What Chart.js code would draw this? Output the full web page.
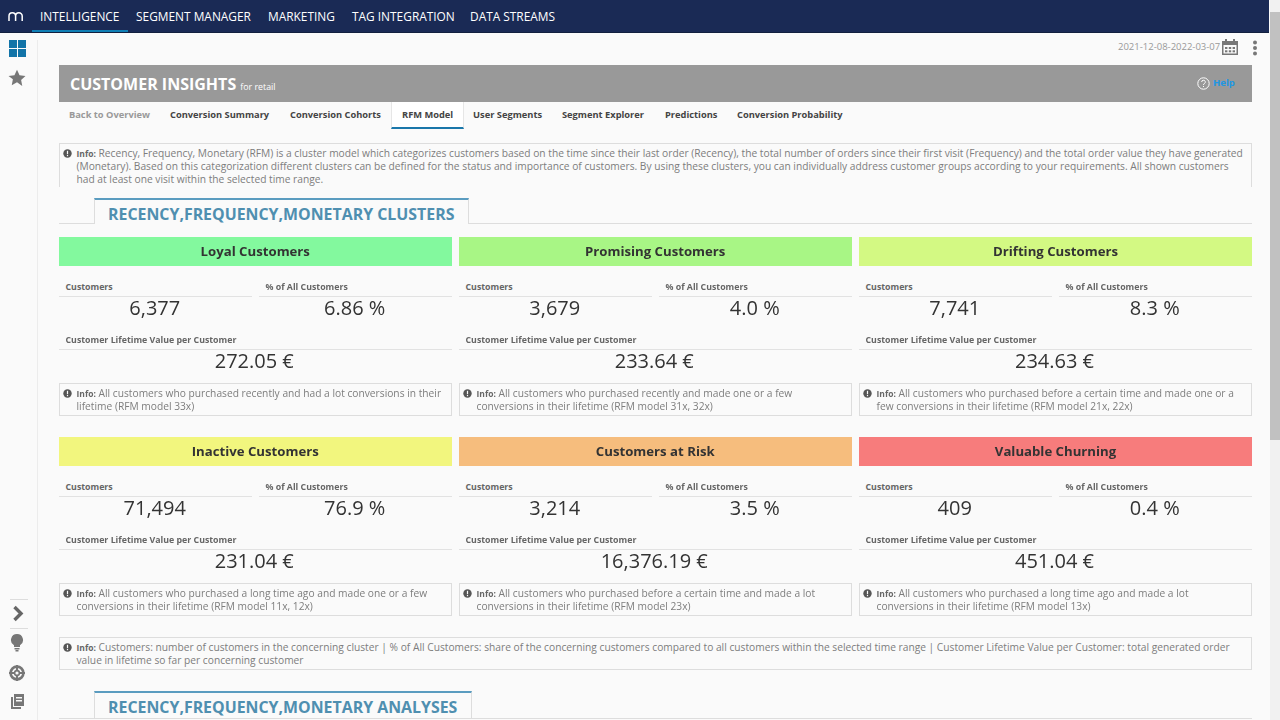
<!DOCTYPE html>
<html>
<head>
<meta charset="utf-8">
<title>Customer Insights</title>
<script src="https://cdn.jsdelivr.net/npm/chart.js@4"></script>
<style>
html, body { margin: 0; padding: 0; width: 1280px; height: 720px; overflow: hidden; background: #fafafa; font-family: "Open Sans", sans-serif; }
.abs, .abs-svg { position: absolute; white-space: nowrap; }
.nav { left: 0; top: 0; width: 1269px; height: 32px; background: #1a2a55; border-bottom: 1px solid #12203f; }
.navitem { top: 0; line-height: 32px; font-size: 11.9px; color: #fff; }
.navline { left: 32px; top: 30px; width: 96px; height: 2px; background: #0f7fb5; }
.sb { left: 1270px; top: 0; width: 10px; height: 720px; background: #f1f1f1; }
.thumb { left: 1270px; top: 12px; width: 10px; height: 428px; background: #c1c1c1; }
.sideline { left: 37px; top: 40px; width: 1px; height: 680px; background: #ececec; }
.hr { left: 10px; width: 18px; height: 1px; background: #ddd; }
.date { left: 1118px; top: 40px; font-size: 9.5px; line-height: 14px; color: #999; }
.head { left: 59px; top: 65px; width: 1193px; height: 37px; background: #999; }
.htitle { left: 70px; top: 73px; font-size: 16px; line-height: 22px; font-weight: 700; color: #fff; }
.hsub { font-size: 8.8px; font-weight: 400; }
.help { left: 1213px; top: 76px; font-size: 9.5px; line-height: 14px; font-weight: 700; color: #2196e3; }
.tab { top: 108px; font-size: 9.3px; line-height: 14px; font-weight: 700; color: #444; }
.tabbox { left: 391px; top: 102px; width: 71px; height: 25px; background: #fff; border: 1px solid #e6e6e6; border-top: 0; border-bottom: 2px solid #1b78ab; }
.info { border: 1px solid #ddd; box-sizing: border-box; font-size: 10.23px; line-height: 12.3px; color: #7d7d7d; padding: 3px 0 0 16.5px; }
.info b { font-size: 8.5px; color: #666; }
.info svg { position: absolute; left: 3px; top: 5px; }
.sect { left: 94px; height: 26px; box-sizing: border-box; background: #fafafa; border: 1px solid #ddd; border-top: 2px solid #5a9cc0; border-bottom: 0; font-size: 15.9px; line-height: 28px; font-weight: 700; color: #4f8fb0; padding-left: 13px; }
.sectline { left: 59px; width: 1193px; height: 1px; background: #ddd; }
.band { height: 29px; }
.bandtitle { height: 29px; line-height: 29px; text-align: center; font-size: 13.2px; font-weight: 700; color: #333; }
.lbl { font-size: 8.8px; line-height: 12px; font-weight: 700; color: #666; }
.rule { height: 1px; background: #e2e2e2; }
.val { font-size: 20px; line-height: 26px; color: #333; text-align: center; }
</style>
</head>
<body>
<div class="abs nav"></div>
<svg class="abs-svg" style="left:8px;top:11px" width="16" height="11" viewBox="0 0 16 11" fill="none" stroke="#fff" stroke-width="1.5"><path d="M1 10V5a3 3 0 0 1 6.6 0v5M7.6 5a3 3 0 0 1 6.6 0v5"/></svg>
<div class="abs navline"></div>
<div class="abs sb"></div><div class="abs thumb"></div>
<div class="abs sideline"></div>

<svg class="abs-svg" style="left:9px;top:40px" width="17" height="17" viewBox="0 0 17 17" fill="#1274a8"><rect width="8" height="8"/><rect x="9" width="8" height="8"/><rect y="9" width="8" height="8"/><rect x="9" y="9" width="8" height="8"/></svg>
<svg class="abs-svg" style="left:8px;top:69px" width="18" height="18" viewBox="0 0 24 24" fill="#777"><path d="M12 1l3.4 7.3 7.9 1-5.8 5.4 1.5 7.9L12 17.7 5 21.6l1.5-7.9L.7 9.3l7.9-1z"/></svg>
<div class="abs hr" style="top:599px"></div>
<svg class="abs-svg" style="left:12px;top:605px" width="14" height="17" viewBox="0 0 14 17" fill="none" stroke="#666" stroke-width="3.4"><path d="M2.5 2l6.5 6.5-6.5 6.5"/></svg>
<div class="abs hr" style="top:628px"></div>
<svg class="abs-svg" style="left:10px;top:634px" width="14" height="18" viewBox="0 0 14 18" fill="#777"><path d="M7 0a6 6 0 0 1 3 11.2V13H4v-1.8A6 6 0 0 1 7 0zM4.5 14h5v1.5h-5zM5.5 16h3v1.5h-3z"/></svg>
<svg class="abs-svg" style="left:9px;top:665px" width="16" height="16" viewBox="0 0 16 16" fill="none"><circle cx="8" cy="8" r="6.4" stroke="#777" stroke-width="2.6"/><circle cx="8" cy="8" r="2.4" stroke="#777" stroke-width="1.6"/><path d="M8 0v5.5M8 10.5V16M0 8h5.5M10.5 8H16" stroke="#777" stroke-width="2.2"/></svg>
<svg class="abs-svg" style="left:10px;top:694px" width="15" height="16" viewBox="0 0 15 16" fill="#777"><path d="M4 0h10v12H4zM6 3v1.4h6V3zM6 6v1.4h6V6z" fill-rule="evenodd"/><path d="M1 3h2v10h8v2H1z"/></svg>

<div class="abs date">2021-12-08-2022-03-07</div>
<svg class="abs-svg" style="left:1222px;top:39px" width="16" height="16" viewBox="0 0 16 16" fill="#777"><path d="M0 2h3V0h2v2h6V0h2v2h3v14H0zM1.5 6v8.5h13V6z" fill-rule="evenodd"/><rect x="3" y="8" width="2.4" height="2"/><rect x="6.8" y="8" width="2.4" height="2"/><rect x="10.6" y="8" width="2.4" height="2"/><rect x="3" y="11.3" width="2.4" height="2"/><rect x="6.8" y="11.3" width="2.4" height="2"/><rect x="10.6" y="11.3" width="2.4" height="2"/></svg>
<svg class="abs-svg" style="left:1252px;top:40px" width="6" height="16" fill="#777"><circle cx="3" cy="2.5" r="2"/><circle cx="3" cy="8" r="2"/><circle cx="3" cy="13.5" r="2"/></svg>

<div class="abs head"></div>
<div class="abs htitle">CUSTOMER INSIGHTS <span class="hsub">for retail</span></div>
<svg class="abs-svg" style="left:1197px;top:77px" width="13" height="13" viewBox="0 0 13 13" fill="none" stroke="#fff"><circle cx="6.5" cy="6.5" r="5.7"/><path d="M4.7 5a1.8 1.8 0 1 1 2.6 1.6c-.6.3-.8.7-.8 1.4M6.5 9v1"/></svg>
<div class="abs help">Help</div>
<div class="abs tabbox"></div>

<div id="page"></div>

<script>
const navItems = ['INTELLIGENCE', 'SEGMENT MANAGER', 'MARKETING', 'TAG INTEGRATION', 'DATA STREAMS'];
const navLeft = [40, 136, 268, 352, 470];
const tabItems = ['Back to Overview', 'Conversion Summary', 'Conversion Cohorts', 'RFM Model', 'User Segments', 'Segment Explorer', 'Predictions', 'Conversion Probability'];
const tabLeft = [69, 170, 290, 402, 473, 562, 665, 737];

const clusters = ['Loyal Customers', 'Promising Customers', 'Drifting Customers', 'Inactive Customers', 'Customers at Risk', 'Valuable Churning'];
const customers = ['6,377', '3,679', '7,741', '71,494', '3,214', '409'];
const shareOfAll = ['6.86 %', '4.0 %', '8.3 %', '76.9 %', '3.5 %', '0.4 %'];
const lifetimeValue = ['272.05 €', '233.64 €', '234.63 €', '231.04 €', '16,376.19 €', '451.04 €'];
const bandFill = [1];
const clusterColors = ['#83f99e', '#a8f685', '#d3f983', '#f2f67e', '#f6bd7d', '#f77c7c'];
const clusterInfo = [
  'All customers who purchased recently and had a lot conversions in their<br>lifetime (RFM model 33x)',
  'All customers who purchased recently and made one or a few<br>conversions in their lifetime (RFM model 31x, 32x)',
  'All customers who purchased before a certain time and made one or a<br>few conversions in their lifetime (RFM model 21x, 22x)',
  'All customers who purchased a long time ago and made one or a few<br>conversions in their lifetime (RFM model 11x, 12x)',
  'All customers who purchased before a certain time and made a lot<br>conversions in their lifetime (RFM model 23x)',
  'All customers who purchased a long time ago and made a lot<br>conversions in their lifetime (RFM model 13x)'
];
const introInfo = 'Recency, Frequency, Monetary (RFM) is a cluster model which categorizes customers based on the time since their last order (Recency), the total number of orders since their first visit (Frequency) and the total order value they have generated<br>(Monetary). Based on this categorization different clusters can be defined for the status and importance of customers. By using these clusters, you can individually address customer groups according to your requirements. All shown customers<br>had at least one visit within the selected time range.';
const footInfo = 'Customers: number of customers in the concerning cluster | % of All Customers: share of the concerning customers compared to all customers within the selected time range | Customer Lifetime Value per Customer: total generated order<br>value in lifetime so far per concerning customer';

const page = document.getElementById('page');
const infoIcon = '<svg width="9" height="9" viewBox="0 0 9 9"><circle cx="4.5" cy="4.5" r="4.2" fill="#555"/><rect x="3.9" y="1.8" width="1.2" height="3.4" fill="#fafafa"/><rect x="3.9" y="6" width="1.2" height="1.2" fill="#fafafa"/></svg>';

function add(cls, left, top, width, html, extra) {
    const el = document.createElement('div');
    el.className = 'abs ' + cls;
    el.style.left = left + 'px';
    el.style.top = top + 'px';
    if (width) el.style.width = width + 'px';
    if (extra) el.style.cssText += extra;
    if (html) el.innerHTML = html;
    page.appendChild(el);
    return el;
}

function addInfo(left, top, width, height, text, extra) {
    return add('info', left, top, width, infoIcon + '<b>Info:</b> ' + text, 'height:' + height + 'px;' + (extra || ''));
}

navItems.forEach((t, i) => add('navitem', navLeft[i], 0, 0, t));
tabItems.forEach((t, i) => add('tab', tabLeft[i], 108, 0, t, i === 0 ? 'color:#999' : ''));

addInfo(59, 143, 1193, 44, introInfo, 'border-bottom:0');

add('sectline', 59, 223, 1193);
add('sect', 94, 198, 375, 'RECENCY,FREQUENCY,MONETARY CLUSTERS');
add('sectline', 59, 718, 1193);
add('sect', 94, 691, 378, 'RECENCY,FREQUENCY,MONETARY ANALYSES', 'height:27px;line-height:29px');
addInfo(59, 637, 1193, 33, footInfo);

const colLeft = [59, 459, 859];
const rowTop = [237, 437];
const tileW = 392.5;
const halfW = 192.5;

clusters.forEach((name, i) => {
    const x = colLeft[i % 3];
    const y = rowTop[Math.floor(i / 3)];
    const w = i % 3 === 2 ? 393 : tileW;

    const box = add('band', x, y, w);
    const canvas = document.createElement('canvas');
    box.appendChild(canvas);
    new Chart(canvas, {
        type: 'bar',
        data: {
            labels: [name],
            datasets: [{
                data: bandFill,
                backgroundColor: clusterColors[i],
                barPercentage: 1,
                categoryPercentage: 1
            }]
        },
        options: {
            indexAxis: 'y',
            responsive: true,
            maintainAspectRatio: false,
            animation: false,
            layout: { padding: 0 },
            plugins: { legend: { display: false }, tooltip: { enabled: false } },
            scales: {
                x: { display: false, min: 0, max: 1 },
                y: { display: false }
            }
        }
    });
    add('bandtitle', x, y, w, name);

    add('lbl', x + 6.5, y + 44, 0, 'Customers');
    add('rule', x, y + 59, halfW);
    add('val', x - 0.5, y + 58, halfW, customers[i]);
    add('lbl', x + 206.5, y + 44, 0, '% of All Customers');
    add('rule', x + 200, y + 59, w - 200);
    add('val', x + 199.5, y + 58, halfW, shareOfAll[i]);
    add('lbl', x + 6.5, y + 97, 0, 'Customer Lifetime Value per Customer');
    add('rule', x, y + 112, w);
    add('val', x - 1, y + 111, w, lifetimeValue[i]);
    addInfo(x, y + 146, w, 33, clusterInfo[i]);
});
</script>
</body>
</html>
